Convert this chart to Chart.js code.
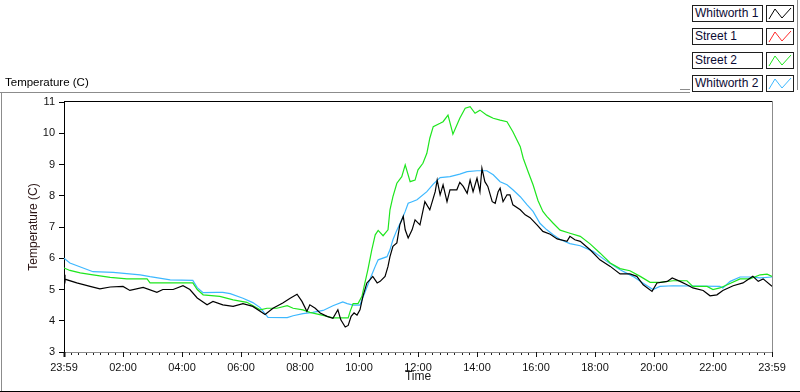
<!DOCTYPE html>
<html>
<head>
<meta charset="utf-8">
<script src="https://cdn.jsdelivr.net/npm/chart.js@4"></script>
<style>
body { margin: 0; background: #fff; font-family: "Liberation Sans", Arial, sans-serif; }
#wrap { position: relative; width: 800px; height: 392px; overflow: hidden; }
#chart { position: absolute; left: 0; top: 0; }
.rule { position: absolute; background: #8c8c8c; }
.panel-title { position: absolute; left: 5px; top: 75px; font-size: 11.5px; line-height: 14px; color: #000; }
.lg-label { position: absolute; left: 692px; width: 67px; height: 15px; border: 1px solid #1e1e1e;
            font-size: 12px; line-height: 15px; padding-left: 2px; color: #0b0b33; background: #fff; }
.lg-swatch { position: absolute; left: 766px; width: 26px; height: 15px; border: 1px solid #1e1e1e; background: #fff; }
</style>
</head>
<body>
<div id="wrap">
  <canvas id="chart" width="800" height="392"></canvas>
  <div class="panel-title">Temperature (C)</div>
  <div id="legend"></div>
  <!-- frame lines -->
  <div class="rule" style="left:0;top:92px;width:690px;height:1px"></div>
  <div class="rule" style="left:1px;top:92px;width:1px;height:300px"></div>
  <div class="rule" style="left:0;top:391px;width:800px;height:1px;background:#000"></div>
  <div class="rule" style="left:797px;top:0;width:1px;height:90px"></div>
  <div class="rule" style="left:680px;top:89px;width:10px;height:1px"></div>
</div>
<script>
// x axis: minutes after 23:59
var timeLabels = ['23:59','02:00','04:00','06:00','08:00','10:00','12:00','14:00','16:00','18:00','20:00','22:00','23:59'];
var seriesNames = ['Whitworth 1', 'Street 1', 'Street 2', 'Whitworth 2'];
var seriesColors = ['#000000', '#ff2a2a', '#1ee61e', '#3db8ff'];

// Whitworth 1 (black)
var w1Times = [0,2,26,53,73,94,120,134,161,189,201,222,242,256,271,291,303,323,344,364,
  384,409,425,445,460,474,484,494,500,511,521,535,547,557,563,572,578,584,590,596,
  602,608,616,622,628,637,643,653,659,663,669,677,683,690,694,700,708,714,724,734,
  744,755,759,765,771,779,785,799,805,812,820,826,832,840,846,850,856,862,871,877,
  883,887,893,901,907,913,928,938,948,962,974,989,1003,1023,1029,1039,1050,1070,1090,1111,
  1131,1151,1165,1178,1196,1206,1227,1237,1253,1267,1279,1300,1314,1328,1340,1361,1381,1401,1412,1422,
  1440];
var w1Temps = [5.47,5.33,5.21,5.1,5.02,5.08,5.1,4.97,5.07,4.91,5.0,5.0,5.12,5.0,4.73,4.51,4.62,4.51,4.46,4.55,
  4.46,4.2,4.4,4.57,4.72,4.85,4.62,4.3,4.51,4.4,4.25,4.14,4.08,4.35,4.03,3.8,3.85,4.14,4.25,4.18,
  4.35,4.78,5.21,5.31,5.42,5.21,5.26,5.42,5.74,6.05,6.38,6.49,7.07,7.34,6.91,6.65,6.91,7.23,7.07,7.81,
  7.55,8.13,8.5,8.03,8.35,7.81,8.19,8.19,8.43,8.3,8.08,8.5,8.13,8.56,8.13,8.88,8.45,8.3,7.81,7.76,
  8.13,8.24,7.81,8.03,8.03,7.71,7.55,7.39,7.3,7.07,6.86,6.77,6.62,6.54,6.7,6.59,6.54,6.27,5.95,5.74,
  5.5,5.5,5.42,5.15,4.94,5.21,5.26,5.37,5.26,5.15,5.05,4.97,4.8,4.83,4.97,5.12,5.21,5.42,5.26,5.34,
  5.1];

// Street 1 (red) - no readings visible
var s1Times = [];
var s1Temps = [];

// Street 2 (green)
var s2Times = [0,12,33,59,94,128,169,175,262,271,283,317,344,372,399,413,433,454,466,486,
  500,527,547,578,582,588,598,606,612,618,626,633,639,649,659,663,669,677,687,694,
  704,714,720,730,738,744,751,765,771,781,789,791,805,816,826,836,846,860,873,887,
  901,913,928,934,944,954,964,974,982,995,1009,1029,1050,1070,1090,1111,1131,1151,1172,1192,
  1212,1239,1267,1279,1308,1320,1334,1349,1375,1395,1416,1430,1440];
var s2Temps = [5.69,5.61,5.53,5.47,5.39,5.34,5.34,5.21,5.21,5.0,4.83,4.78,4.67,4.59,4.35,4.4,4.4,4.48,4.4,4.35,
  4.27,4.17,4.09,4.09,4.3,4.55,4.55,4.78,5.21,5.63,6.27,6.75,6.89,6.72,6.91,7.55,7.97,8.4,8.61,8.99,
  8.45,8.5,8.83,9.04,9.36,9.84,10.21,10.32,10.37,10.58,10.1,9.97,10.48,10.8,10.85,10.64,10.74,10.58,10.48,10.42,
  10.37,10.05,9.57,9.2,8.77,8.35,7.85,7.5,7.34,7.12,6.9,6.8,6.7,6.46,6.17,5.85,5.67,5.6,5.42,5.23,
  5.23,5.28,5.28,5.1,5.1,5.0,5.05,5.15,5.34,5.34,5.47,5.49,5.42];

// Whitworth 2 (blue)
var w2Times = [0,12,59,100,155,175,216,262,271,283,311,323,338,364,384,399,415,454,466,486,
  506,527,547,567,576,588,602,606,612,618,626,633,639,657,663,669,677,687,694,700,
  708,718,738,751,765,785,805,820,840,860,873,887,901,913,928,942,954,968,982,995,
  1009,1029,1050,1076,1104,1131,1157,1178,1198,1212,1239,1334,1340,1355,1375,1395,1416,1440];
var w2Temps = [6.0,5.85,5.57,5.55,5.47,5.41,5.31,5.29,5.06,4.9,4.91,4.91,4.87,4.72,4.58,4.42,4.11,4.1,4.16,4.23,
  4.27,4.33,4.48,4.6,4.55,4.5,4.5,4.68,4.9,5.15,5.47,5.74,5.95,6.05,6.27,6.59,6.9,7.23,7.5,7.76,
  7.81,7.87,8.13,8.37,8.58,8.61,8.69,8.77,8.8,8.8,8.67,8.45,8.35,8.19,7.97,7.71,7.5,7.12,6.91,6.75,
  6.6,6.47,6.4,6.22,5.9,5.63,5.42,5.2,5.0,5.1,5.12,5.1,5.05,5.26,5.4,5.4,5.37,5.4];

function toPoints(times, temps) {
    var pts = [];
    for (var i = 0; i < times.length; i++) {
        pts.push({ x: times[i], y: temps[i] });
    }
    return pts;
}

// legend boxes (LabVIEW style plot legend)
var legend = document.getElementById('legend');
seriesNames.forEach(function (name, i) {
    var top = 5 + i * 23.3;
    var label = document.createElement('div');
    label.className = 'lg-label';
    label.style.top = top + 'px';
    label.textContent = name;
    legend.appendChild(label);

    var sw = document.createElement('div');
    sw.className = 'lg-swatch';
    sw.style.top = top + 'px';
    sw.innerHTML = '<svg width="26" height="15"><polyline points="2,13 8,3 15,12 24,2" fill="none" stroke="' +
        seriesColors[i] + '" stroke-width="1"/></svg>';
    legend.appendChild(sw);
});

var minorTicks = [];
for (var m = 0; m <= 1440; m += 15) minorTicks.push(m);

// top/right frame of the plot and the longer 2-hour ticks
var framePlugin = {
    id: 'frame',
    afterDraw: function (chart) {
        var a = chart.chartArea;
        var c = chart.ctx;
        var xs = chart.scales.x;
        c.save();
        c.lineWidth = 1;
        c.strokeStyle = '#000';
        c.beginPath();
        c.moveTo(a.left, Math.floor(a.top) - 0.5);
        c.lineTo(a.right, Math.floor(a.top) - 0.5);
        c.stroke();
        c.strokeStyle = '#8c8c8c';
        c.beginPath();
        c.moveTo(Math.round(a.right) + 0.5, a.top - 1);
        c.lineTo(Math.round(a.right) + 0.5, a.bottom);
        c.stroke();
        c.strokeStyle = '#111';
        for (var v = 0; v <= 1440; v += 120) {
            var px = Math.round(xs.getPixelForValue(v)) + 0.5;
            c.lineWidth = (v === 0) ? 2 : 1;
            c.beginPath();
            c.moveTo(px, a.bottom);
            c.lineTo(px, a.bottom + 5);
            c.stroke();
        }
        c.restore();
    }
};

var ctx = document.getElementById('chart').getContext('2d');
var myChart = new Chart(ctx, {
    type: 'line',
    data: {
        datasets: [
            { label: seriesNames[0], data: toPoints(w1Times, w1Temps), borderColor: seriesColors[0] },
            { label: seriesNames[1], data: toPoints(s1Times, s1Temps), borderColor: seriesColors[1] },
            { label: seriesNames[2], data: toPoints(s2Times, s2Temps), borderColor: seriesColors[2] },
            { label: seriesNames[3], data: toPoints(w2Times, w2Temps), borderColor: seriesColors[3] }
        ]
    },
    options: {
        responsive: false,
        animation: false,
        elements: { point: { radius: 0 }, line: { borderWidth: 1.2, tension: 0 } },
        layout: { padding: { top: 102, right: 28, left: 0, bottom: 0 } },
        plugins: { legend: { display: false }, tooltip: { enabled: false } },
        scales: {
            x: {
                type: 'linear', min: 0, max: 1440,
                afterBuildTicks: function (s) { s.ticks = minorTicks.map(function (v) { return { value: v }; }); },
                afterFit: function (s) { s.height = 40; },
                ticks: {
                    autoSkip: false, maxRotation: 0, padding: 6, color: '#111',
                    font: { family: 'Liberation Sans', size: 11 },
                    callback: function (v) { return v % 120 === 0 ? timeLabels[v / 120] : ''; }
                },
                grid: { drawOnChartArea: false, tickLength: 3, color: '#222' },
                border: { color: '#8c8c8c' },
                title: { display: true, text: 'Time', color: '#1a1a1a',
                         font: { family: 'Liberation Sans', size: 12 }, padding: { top: 0, bottom: 8 } }
            },
            y: {
                min: 3, max: 11,
                afterFit: function (s) { s.width = 64; },
                ticks: { stepSize: 1, padding: 4, color: '#111', font: { family: 'Liberation Sans', size: 11 } },
                grid: { drawOnChartArea: false, tickLength: 5, color: '#000' },
                border: { color: '#000' },
                title: { display: true, text: 'Temperature (C)', color: '#2a1414',
                         font: { family: 'Liberation Sans', size: 12 }, padding: { top: 26, bottom: 0 } }
            }
        }
    },
    plugins: [framePlugin]
});
</script>
</body>
</html>
